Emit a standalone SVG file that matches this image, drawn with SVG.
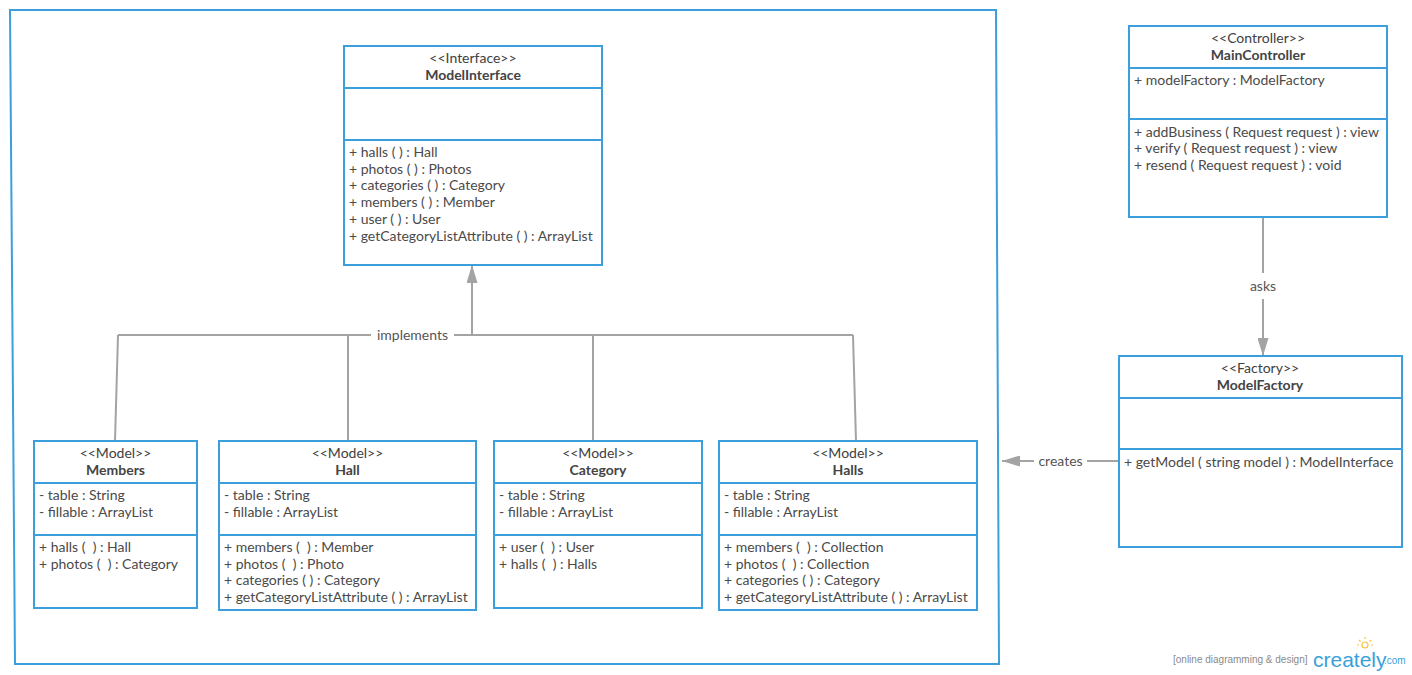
<svg xmlns="http://www.w3.org/2000/svg" width="1412" height="675" viewBox="0 0 1412 675">
  <defs>
    <marker id="arrow" viewBox="0 0 18 11" refX="18" refY="5.5" markerWidth="18" markerHeight="11" markerUnits="userSpaceOnUse" orient="auto">
      <path d="M0,0 L18,5.5 L0,11 Z" fill="#a3a3a3"/>
    </marker>
    <style>
      .box { fill: #ffffff; stroke: #3a9fdc; stroke-width: 2; }
      .div { stroke: #3a9fdc; stroke-width: 2; }
      .frame { fill: none; stroke: #3a9fdc; stroke-width: 2; }
      .edge { fill: none; stroke: #a3a3a3; stroke-width: 2; }
      text { font-family: Lato, "Open Sans", "Liberation Sans", sans-serif; font-size: 14px; fill: #4a4a4a; white-space: pre; }
      .st { text-anchor: middle; fill: #404040; }
      .nm { text-anchor: middle; font-weight: bold; fill: #444444; }
      .lbl { text-anchor: middle; fill: #555555; }
      .wm { font-family: "Liberation Sans", Arial, sans-serif; font-size: 10px; fill: #8a8a8a; }
      .logo { font-family: "Liberation Sans", Arial, sans-serif; font-size: 21px; fill: #3a9fdc; }
      .dom { font-family: "Liberation Sans", Arial, sans-serif; font-size: 10px; fill: #3a9fdc; }
    </style>
  </defs>

  <!-- package frame -->
  <path class="frame" d="M10,10 L996,10 L999,664 L15,664 Z"/>

  <!-- connectors -->
  <g id="connectors">
    <!-- implements tree -->
    <path class="edge" d="M118,335 L371,335 M454,335 L853,335"/>
    <path class="edge" d="M472,335 L472,265" marker-end="url(#arrow)"/>
    <path class="edge" d="M118,335 L115,441"/>
    <path class="edge" d="M348,335 L348,441"/>
    <path class="edge" d="M593,335 L593,441"/>
    <path class="edge" d="M853,335 L856,441"/>
    <text class="lbl" x="412.5" y="340">implements</text>
    <!-- asks -->
    <path class="edge" d="M1263,218 L1263,273"/>
    <path class="edge" d="M1263,299 L1263,356" marker-end="url(#arrow)"/>
    <text class="lbl" x="1263" y="291">asks</text>
    <!-- creates -->
    <path class="edge" d="M1119,461 L1087,461"/>
    <path class="edge" d="M1034,461 L1002,461" marker-end="url(#arrow)"/>
    <text class="lbl" x="1060.5" y="466">creates</text>
  </g>

  <!-- ModelInterface -->
  <g id="model-interface">
    <rect class="box" x="344" y="46" width="258" height="219"/>
    <line class="div" x1="344" y1="88" x2="602" y2="88"/>
    <line class="div" x1="344" y1="140" x2="602" y2="140"/>
    <text class="st" x="473" y="63">&lt;&lt;Interface&gt;&gt;</text>
    <text class="nm" x="473" y="80">ModelInterface</text>
    <text x="349" y="157">+ halls ( ) : Hall</text>
    <text x="349" y="173.5">+ photos ( ) : Photos</text>
    <text x="349" y="190">+ categories ( ) : Category</text>
    <text x="349" y="207">+ members ( ) : Member</text>
    <text x="349" y="224">+ user ( ) : User</text>
    <text x="349" y="240.5">+ getCategoryListAttribute ( ) : ArrayList</text>
  </g>

  <!-- Members -->
  <g id="members">
    <rect class="box" x="34" y="441" width="163" height="167"/>
    <line class="div" x1="34" y1="483" x2="197" y2="483"/>
    <line class="div" x1="34" y1="535" x2="197" y2="535"/>
    <text class="st" x="115.5" y="457.5">&lt;&lt;Model&gt;&gt;</text>
    <text class="nm" x="115.5" y="474.5">Members</text>
    <text x="39" y="500">- table : String</text>
    <text x="39" y="516.5">- fillable : ArrayList</text>
    <text x="39" y="552">+ halls (  ) : Hall</text>
    <text x="39" y="568.5">+ photos (  ) : Category</text>
  </g>

  <!-- Hall -->
  <g id="hall">
    <rect class="box" x="219" y="441" width="257" height="169"/>
    <line class="div" x1="219" y1="483" x2="476" y2="483"/>
    <line class="div" x1="219" y1="535" x2="476" y2="535"/>
    <text class="st" x="347.5" y="457.5">&lt;&lt;Model&gt;&gt;</text>
    <text class="nm" x="347.5" y="474.5">Hall</text>
    <text x="224" y="500">- table : String</text>
    <text x="224" y="516.5">- fillable : ArrayList</text>
    <text x="224" y="552">+ members (  ) : Member</text>
    <text x="224" y="568.5">+ photos (  ) : Photo</text>
    <text x="224" y="585">+ categories ( ) : Category</text>
    <text x="224" y="602">+ getCategoryListAttribute ( ) : ArrayList</text>
  </g>

  <!-- Category -->
  <g id="category">
    <rect class="box" x="494" y="441" width="208" height="167"/>
    <line class="div" x1="494" y1="483" x2="702" y2="483"/>
    <line class="div" x1="494" y1="535" x2="702" y2="535"/>
    <text class="st" x="598" y="457.5">&lt;&lt;Model&gt;&gt;</text>
    <text class="nm" x="598" y="474.5">Category</text>
    <text x="499" y="500">- table : String</text>
    <text x="499" y="516.5">- fillable : ArrayList</text>
    <text x="499" y="552">+ user (  ) : User</text>
    <text x="499" y="568.5">+ halls (  ) : Halls</text>
  </g>

  <!-- Halls -->
  <g id="halls">
    <rect class="box" x="719" y="441" width="258" height="169"/>
    <line class="div" x1="719" y1="483" x2="977" y2="483"/>
    <line class="div" x1="719" y1="535" x2="977" y2="535"/>
    <text class="st" x="848" y="457.5">&lt;&lt;Model&gt;&gt;</text>
    <text class="nm" x="848" y="474.5">Halls</text>
    <text x="724" y="500">- table : String</text>
    <text x="724" y="516.5">- fillable : ArrayList</text>
    <text x="724" y="552">+ members (  ) : Collection</text>
    <text x="724" y="568.5">+ photos (  ) : Collection</text>
    <text x="724" y="585">+ categories ( ) : Category</text>
    <text x="724" y="602">+ getCategoryListAttribute ( ) : ArrayList</text>
  </g>

  <!-- MainController -->
  <g id="main-controller">
    <rect class="box" x="1129" y="26" width="258" height="191"/>
    <line class="div" x1="1129" y1="68" x2="1387" y2="68"/>
    <line class="div" x1="1129" y1="119" x2="1387" y2="119"/>
    <text class="st" x="1258" y="43">&lt;&lt;Controller&gt;&gt;</text>
    <text class="nm" x="1258" y="60">MainController</text>
    <text x="1134" y="85">+ modelFactory : ModelFactory</text>
    <text x="1134" y="137">+ addBusiness ( Request request ) : view</text>
    <text x="1134" y="153">+ verify ( Request request ) : view</text>
    <text x="1134" y="170">+ resend ( Request request ) : void</text>
  </g>

  <!-- ModelFactory -->
  <g id="model-factory">
    <rect class="box" x="1119" y="356" width="283" height="191"/>
    <line class="div" x1="1119" y1="398" x2="1402" y2="398"/>
    <line class="div" x1="1119" y1="449" x2="1402" y2="449"/>
    <text class="st" x="1260" y="373">&lt;&lt;Factory&gt;&gt;</text>
    <text class="nm" x="1260" y="390">ModelFactory</text>
    <text x="1124" y="467">+ getModel ( string model ) : ModelInterface</text>
  </g>

  <!-- watermark -->
  <g id="watermark">
    <text class="wm" x="1173" y="663">[online diagramming &amp; design]</text>
    <text class="logo" x="1313" y="667">creately</text>
    <text class="dom" x="1384" y="664">.com</text>
    <g stroke="#f5c342" stroke-width="1.2" fill="none">
      <circle cx="1365" cy="645" r="3"/>
      <line x1="1365" y1="637" x2="1365" y2="639"/>
      <line x1="1359" y1="640" x2="1360.5" y2="641.5"/>
      <line x1="1371" y1="640" x2="1369.5" y2="641.5"/>
      <line x1="1357" y1="645" x2="1359" y2="645"/>
      <line x1="1371" y1="645" x2="1373" y2="645"/>
    </g>
  </g>
</svg>
